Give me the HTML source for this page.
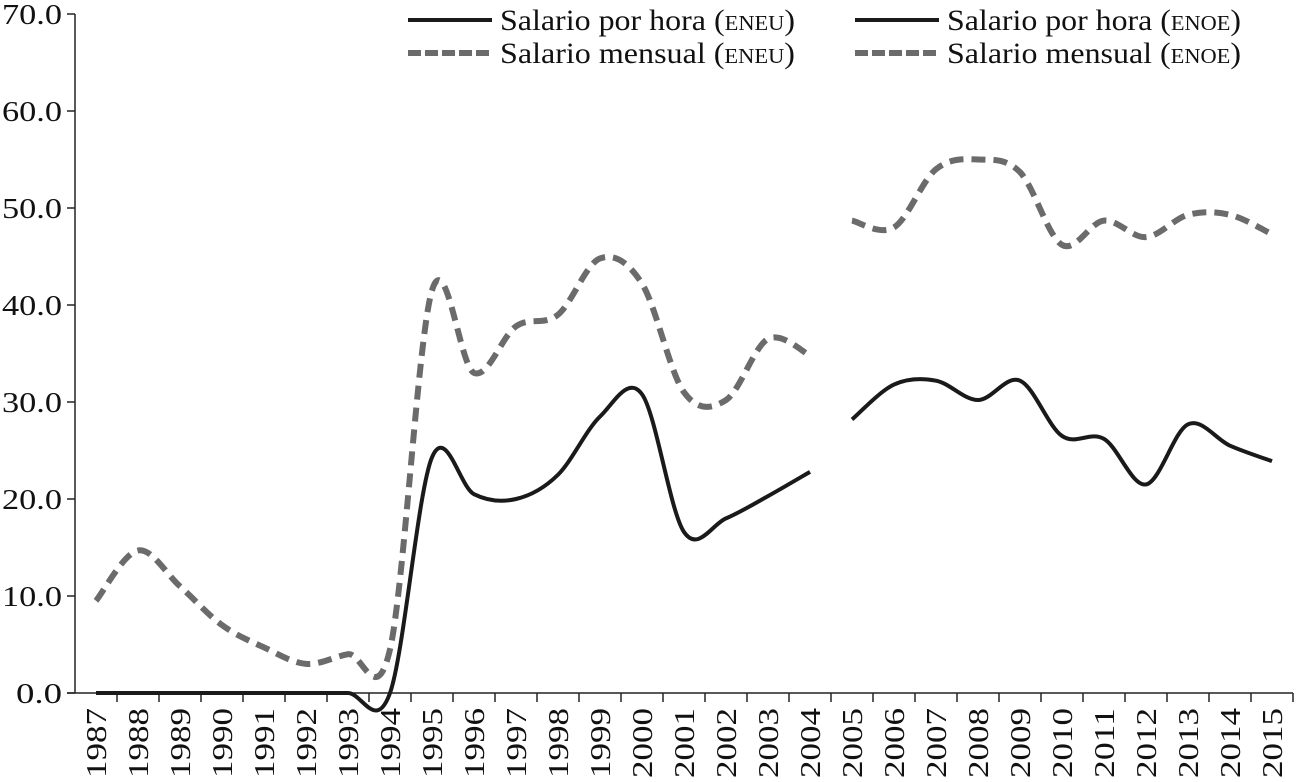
<!DOCTYPE html>
<html><head><meta charset="utf-8"><style>
body{margin:0;background:#fff}
svg{display:block}
text{font-family:"Liberation Serif",serif;fill:#111}
</style></head><body>
<svg id="chart" width="1297" height="782" viewBox="0 0 1297 782" xmlns="http://www.w3.org/2000/svg"></svg>
<script>
const years=[1987,1988,1989,1990,1991,1992,1993,1994,1995,1996,1997,1998,1999,2000,2001,2002,2003,2004,2005,2006,2007,2008,2009,2010,2011,2012,2013,2014,2015];
const hourlyEneu=[0,0,0,0,0,0,0,0,24.3,20.5,20.0,22.5,28.5,30.8,16.6,18.0,20.3,22.8];
const monthlyEneu=[9.5,14.7,11.0,7.0,4.7,3.0,4.0,4.5,41.5,33.0,37.8,39.0,44.8,42.2,31.0,30.2,36.5,34.8];
const hourlyEnoe=[28.2,31.8,32.2,30.2,32.2,26.5,26.2,21.5,27.7,25.5,23.9];
const monthlyEnoe=[48.7,48.0,54.0,55.0,53.7,46.2,48.7,47.0,49.3,49.3,47.3];
const yTicks=[0,10,20,30,40,50,60,70];
const NS="http://www.w3.org/2000/svg";
const svg=document.getElementById('chart');
const X0=75,BW=42,Y0=693,YS=9.7;
function xPos(i){return X0+BW*(i+0.5);}
function yPos(v){return Y0-v*YS;}
function mk(tag,attrs,parent){const e=document.createElementNS(NS,tag);for(const k in attrs)e.setAttribute(k,attrs[k]);(parent||svg).appendChild(e);return e;}
let ax=mk('line',{x1:X0,y1:14,x2:X0,y2:Y0,stroke:'#222','stroke-width':1.5});


let bx=mk('line',{x1:X0-8,y1:Y0,x2:X0+BW*years.length,y2:Y0,stroke:'#222','stroke-width':1.5});


yTicks.forEach(v=>{
  const y=yPos(v);
  mk('line',{x1:X0-8,y1:y,x2:X0,y2:y,stroke:'#222','stroke-width':1.5});
  const lbl=v.toFixed(1);
  const t=mk('text',{x:X0-13,y:y+10,'text-anchor':'end','font-size':29,textLength:lbl.length>3?60:46,lengthAdjust:'spacingAndGlyphs'});
  t.textContent=lbl;
  
  
});
years.forEach((yr,i)=>{
  const xb=X0+BW*(i+1);
  mk('line',{x1:xb,y1:Y0,x2:xb,y2:Y0+9,stroke:'#222','stroke-width':1.5});
  const x=xPos(i)+10;
  const t=mk('text',{x:x,y:708,'text-anchor':'end','font-size':29,textLength:70,lengthAdjust:'spacingAndGlyphs',transform:`rotate(-90 ${x} 708)`});
  t.textContent=yr;
  
  
});
function smoothPath(pts){
  let d=`M${pts[0][0]},${pts[0][1]}`;
  for(let i=0;i<pts.length-1;i++){
    const p0=pts[i-1]||pts[i],p1=pts[i],p2=pts[i+1],p3=pts[i+2]||pts[i+1];
    const c1=[p1[0]+(p2[0]-p0[0])/6,p1[1]+(p2[1]-p0[1])/6];
    const c2=[p2[0]-(p3[0]-p1[0])/6,p2[1]-(p3[1]-p1[1])/6];
    d+=` C${c1[0]},${c1[1]} ${c2[0]},${c2[1]} ${p2[0]},${p2[1]}`;
  }
  return d;
}
function series(vals,start,dashed,name){
  const pts=vals.map((v,i)=>[xPos(start+i),yPos(v)]);
  const p=mk('path',{d:smoothPath(pts),fill:'none',stroke:dashed?'#6b6b6b':'#1a1a1a','stroke-width':dashed?6:4,'stroke-dasharray':dashed?'14 8':'none'});
  
  
}
series(monthlyEneu,0,true,'monthly-eneu-line');
series(monthlyEnoe,18,true,'monthly-enoe-line');
series(hourlyEneu,0,false,'hourly-eneu-line');
series(hourlyEnoe,18,false,'hourly-enoe-line');
const leg=[[408,20,false,'Salario por hora (','ENEU',')',295],[855,20,false,'Salario por hora (','ENOE',')',294],[408,53,true,'Salario mensual (','ENEU',')',295],[855,53,true,'Salario mensual (','ENOE',')',294]];
leg.forEach(l=>{
  const g=mk('g',{});
  
  
  mk('line',{x1:l[0],y1:l[1],x2:l[0]+84,y2:l[1],stroke:l[2]?'#6b6b6b':'#1a1a1a','stroke-width':l[2]?6:4,'stroke-dasharray':l[2]?'13 4':'none'},g);
  const t=mk('text',{x:l[0]+92,y:l[1]+10,'font-size':30,textLength:l[6],lengthAdjust:'spacingAndGlyphs'},g);
  t.textContent=l[3];
  const s=mk('tspan',{'font-size':21},t);s.textContent=l[4];
  const e=mk('tspan',{},t);e.textContent=l[5];
});
</script>
</body></html>
